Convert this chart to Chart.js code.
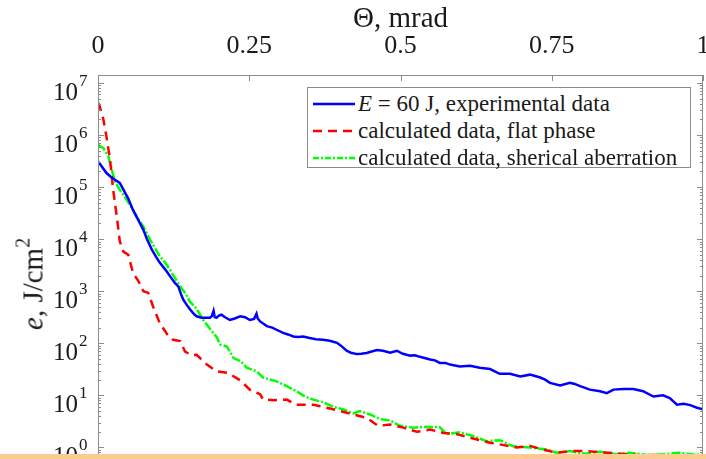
<!DOCTYPE html>
<html>
<head>
<meta charset="utf-8">
<script src="https://cdn.jsdelivr.net/npm/chart.js@4.4.1/dist/chart.umd.min.js"></script>
<style>
  html, body { margin: 0; padding: 0; background: #fff; overflow: hidden; }
  #wrap { position: relative; width: 706px; height: 459px; }
  #legend {
    position: absolute; left: 307px; top: 87px; width: 384px; height: 81px;
    border: 1px solid #8c8c8c; background: #fff; box-sizing: border-box;
    font-family: 'Liberation Serif', 'Times New Roman', serif; font-size: 23px; color: #1a1a1a;
  }
  .row { position: absolute; left: 0; height: 26px; line-height: 26px; white-space: nowrap; }
  .row svg { position: absolute; left: 5px; top: 8px; }
  .row span { position: absolute; left: 50px; top: 0; }
  #ytitle {
    position: absolute; left: 33px; top: 284px; white-space: nowrap; line-height: 1;
    transform: translate(-50%, -50%) rotate(-90deg);
    font-family: 'Liberation Serif', 'Times New Roman', serif; font-size: 29px; color: #1a1a1a;
  }
  #ytitle .sup { font-size: 20px; position: relative; top: -13px; }
  #strip { position: absolute; left: 0; top: 454px; width: 706px; height: 5px; background: #fdc994; }
</style>
</head>
<body>
<div id="wrap">
  <canvas id="chart" width="706" height="459"></canvas>
  <div id="ytitle"><i>e</i>, J/cm<span class="sup">2</span></div>
  <div id="legend">
    <div class="row" style="top:3px"><svg width="42" height="10"><line x1="0" y1="5" x2="42" y2="5" stroke="#0000ff" stroke-width="2.4"/></svg><span><i>E</i> = 60 J, experimental data</span></div>
    <div class="row" style="top:30px"><svg width="42" height="10"><line x1="0" y1="5" x2="42" y2="5" stroke="#ff0000" stroke-width="2.4" stroke-dasharray="9 6"/></svg><span>calculated data, flat phase</span></div>
    <div class="row" style="top:57px"><svg width="42" height="10"><line x1="0" y1="5" x2="42" y2="5" stroke="#00ff00" stroke-width="2.4" stroke-dasharray="6 2 2 2"/></svg><span>calculated data, sherical aberration</span></div>
  </div>
  <div id="strip"></div>
</div>
<script>
// data: theta in mrad, e in J/cm^2
var thetaExp = [0, 0.003, 0.014, 0.023, 0.028, 0.036, 0.042, 0.050, 0.058, 0.066, 0.075, 0.081, 0.089, 0.096, 0.102, 0.111, 0.119, 0.127, 0.133, 0.137, 0.141, 0.147, 0.152, 0.159, 0.163, 0.171, 0.179, 0.185, 0.188, 0.191, 0.193, 0.196, 0.200, 0.204, 0.210, 0.218, 0.226, 0.235, 0.243, 0.251, 0.258, 0.262, 0.264, 0.268, 0.279, 0.288, 0.295, 0.306, 0.314, 0.323, 0.331, 0.339, 0.350, 0.360, 0.372, 0.383, 0.395, 0.402, 0.411, 0.418, 0.428, 0.435, 0.444, 0.451, 0.461, 0.471, 0.483, 0.494, 0.504, 0.516, 0.524, 0.532, 0.549, 0.557, 0.565, 0.574, 0.582, 0.598, 0.615, 0.631, 0.648, 0.664, 0.673, 0.681, 0.698, 0.714, 0.731, 0.739, 0.747, 0.764, 0.780, 0.788, 0.797, 0.813, 0.830, 0.841, 0.852, 0.868, 0.885, 0.901, 0.918, 0.934, 0.945, 0.957, 0.968, 0.979, 0.990, 1.000];
var eExp = [3.1e5, 2.8e5, 1.86e5, 1.51e5, 1.38e5, 1.2e5, 8.9e4, 6.0e4, 3.6e4, 2.4e4, 1.51e4, 1.0e4, 6300, 4570, 3550, 2630, 1950, 1450, 1230, 890, 690, 540, 450, 360, 330, 310, 310, 310, 330, 420, 316, 310, 340, 355, 316, 280, 300, 330, 316, 280, 295, 370, 300, 263, 214, 200, 182, 158, 148, 135, 132, 135, 126, 120, 117, 112, 102, 89, 72, 66, 62, 63, 65, 69, 74, 72, 66, 72, 63, 58, 59, 55, 49, 47, 42, 42, 39, 36, 37, 34, 32, 26, 26, 26, 23, 25, 22, 20, 17.4, 15.5, 17.4, 16.6, 15.1, 12.9, 12.0, 11.0, 12.9, 13.2, 13.2, 12.0, 9.5, 10.0, 8.9, 6.6, 6.9, 6.5, 5.8, 5.4];

var thetaFlat = [0, 0.003, 0.009, 0.014, 0.020, 0.025, 0.031, 0.036, 0.042, 0.050, 0.058, 0.067, 0.075, 0.083, 0.091, 0.102, 0.114, 0.124, 0.136, 0.144, 0.155, 0.163, 0.180, 0.196, 0.215, 0.235, 0.251, 0.268, 0.273, 0.290, 0.312, 0.328, 0.356, 0.378, 0.400, 0.422, 0.444, 0.463, 0.483, 0.505, 0.527, 0.549, 0.571, 0.593, 0.620, 0.648, 0.669, 0.692, 0.714, 0.736, 0.758, 0.780, 0.808, 0.830, 0.863, 0.896, 0.929, 0.962, 0.995];
var eFlat = [4.2e6, 3.5e6, 1.95e6, 9.3e5, 3.3e5, 8.9e4, 2.75e4, 9100, 5750, 5000, 2240, 1550, 1000, 930, 510, 245, 151, 117, 110, 69, 59, 60, 39, 29, 27, 19.5, 12.9, 10.5, 8.3, 8.1, 8.3, 6.6, 6.6, 5.8, 5.0, 4.3, 3.7, 2.6, 2.75, 2.4, 2.0, 2.2, 1.9, 1.8, 1.48, 1.23, 1.12, 1.0, 1.07, 0.91, 0.79, 0.85, 0.85, 0.81, 0.76, 0.71, 0.72, 0.68, 0.69];

var thetaAberr = [0, 0.009, 0.017, 0.023, 0.028, 0.036, 0.047, 0.058, 0.066, 0.075, 0.086, 0.094, 0.102, 0.111, 0.119, 0.127, 0.136, 0.144, 0.152, 0.163, 0.174, 0.185, 0.196, 0.202, 0.213, 0.224, 0.235, 0.246, 0.262, 0.273, 0.295, 0.312, 0.328, 0.342, 0.356, 0.372, 0.389, 0.405, 0.422, 0.433, 0.450, 0.466, 0.483, 0.499, 0.521, 0.543, 0.565, 0.576, 0.598, 0.620, 0.642, 0.664, 0.686, 0.714, 0.742, 0.758, 0.780, 0.805, 0.830, 0.855, 0.879, 0.912, 0.937, 0.960, 0.988, 1.000];
var eAberr = [6.5e5, 5.6e5, 3.9e5, 2.1e5, 1.29e5, 8.9e4, 5.8e4, 3.6e4, 2.5e4, 1.74e4, 9800, 6800, 4700, 3550, 2570, 1820, 1230, 930, 630, 460, 280, 190, 132, 95, 87, 52, 46, 34, 29, 22, 18.6, 15.1, 12.0, 9.5, 8.3, 7.4, 6.0, 5.4, 4.5, 5.0, 4.3, 3.5, 3.3, 2.6, 2.4, 2.5, 2.45, 1.8, 1.95, 1.66, 1.32, 1.38, 1.05, 1.0, 0.91, 0.79, 0.85, 0.76, 0.83, 0.74, 0.79, 0.71, 0.74, 0.79, 0.72, 0.74];

var seriesNames = ['E = 60 J, experimental data', 'calculated data, flat phase', 'calculated data, sherical aberration'];

var xTickValues = [0, 0.25, 0.5, 0.75, 1];
var xTickLabels = ['0', '0.25', '0.5', '0.75', '1'];
var yTickValues = [1, 10, 100, 1e3, 1e4, 1e5, 1e6, 1e7];
var yTickExps = ['0', '1', '2', '3', '4', '5', '6', '7'];

var serif = "'Liberation Serif', 'Times New Roman', serif";
var textCol = '#1a1a1a';
var axisCol = '#8c8c8c';
var biru = '#0000ff';
var merah = '#ff0000';
var hijau = '#00ff00';

function pts(xs, ys) {
  var out = [];
  for (var i = 0; i < xs.length; i++) out.push({ x: xs[i], y: ys[i] });
  return out;
}

// matlab style box, inward ticks and 10^n labels
var axesBox = {
  id: 'axesBox',
  afterDatasetsDraw: function (chart) {
    var c = chart.ctx, a = chart.chartArea;
    var xs = chart.scales.x, ys = chart.scales.y;
    c.save();
    c.strokeStyle = axisCol;
    c.lineWidth = 1;
    c.strokeRect(a.left + 0.5, a.top + 0.5, a.right - a.left - 1, a.bottom - a.top - 1);
    c.beginPath();
    xs.ticks.forEach(function (t) {
      var px = Math.round(xs.getPixelForValue(t.value)) + 0.5;
      c.moveTo(px, a.top); c.lineTo(px, a.top + 6);
    });
    for (var d = -1; d <= 7; d++) {
      for (var k = 1; k <= 9; k++) {
        var v = k * Math.pow(10, d);
        if (v < ys.min || v > ys.max) continue;
        var py = Math.round(ys.getPixelForValue(v)) + 0.5;
        var len = k === 1 ? 6 : 3;
        c.moveTo(a.left, py); c.lineTo(a.left + len, py);
        c.moveTo(a.right, py); c.lineTo(a.right - len, py);
      }
    }
    c.stroke();

    c.fillStyle = textCol;
    c.textBaseline = 'alphabetic';
    ys.ticks.forEach(function (t, i) {
      var py = ys.getPixelForValue(t.value);
      c.font = '25px ' + serif;
      c.textAlign = 'right';
      c.fillText('10', a.left - 20, py + 17);
      c.font = '17px ' + serif;
      c.textAlign = 'left';
      c.fillText(yTickExps[i], a.left - 19, py + 3);
    });
    c.restore();
  }
};

var ctx = document.getElementById('chart').getContext('2d');
var myChart = new Chart(ctx, {
  type: 'line',
  data: {
    datasets: [{
      label: seriesNames[0],
      data: pts(thetaExp, eExp),
      borderColor: biru,
      borderWidth: 2.5,
      pointRadius: 0
    }, {
      label: seriesNames[1],
      data: pts(thetaFlat, eFlat),
      borderColor: merah,
      borderWidth: 2.5,
      borderDash: [9, 6],
      pointRadius: 0
    }, {
      label: seriesNames[2],
      data: pts(thetaAberr, eAberr),
      borderColor: hijau,
      borderWidth: 2.5,
      borderDash: [9, 2, 2, 2],
      pointRadius: 0
    }]
  },
  options: {
    responsive: false,
    animation: false,
    devicePixelRatio: 1,
    layout: { padding: { left: 0, right: 3, top: 0, bottom: 0 } },
    plugins: { legend: { display: false }, tooltip: { enabled: false } },
    scales: {
      x: {
        type: 'linear',
        position: 'top',
        min: 0,
        max: 1,
        afterBuildTicks: function (s) { s.ticks = xTickValues.map(function (v) { return { value: v }; }); },
        afterFit: function (s) { s.height = 75; s.paddingLeft = 0; s.paddingRight = 0; },
        grid: { display: false },
        border: { display: false },
        ticks: {
          padding: 5,
          maxRotation: 0,
          autoSkip: false,
          color: textCol,
          font: { family: serif, size: 26 },
          callback: function (v, i) { return xTickLabels[i]; }
        },
        title: {
          display: true,
          text: 'Θ, mrad',
          color: textCol,
          font: { family: serif, size: 29 },
          padding: { top: 2, bottom: 0 }
        }
      },
      y: {
        type: 'logarithmic',
        min: 0.615,
        max: 1.42e7,
        afterBuildTicks: function (s) { s.ticks = yTickValues.map(function (v) { return { value: v }; }); },
        afterFit: function (s) { s.width = 98; },
        grid: { display: false },
        border: { display: false },
        ticks: { display: false }
      }
    }
  },
  plugins: [axesBox]
});
</script>
</body>
</html>
